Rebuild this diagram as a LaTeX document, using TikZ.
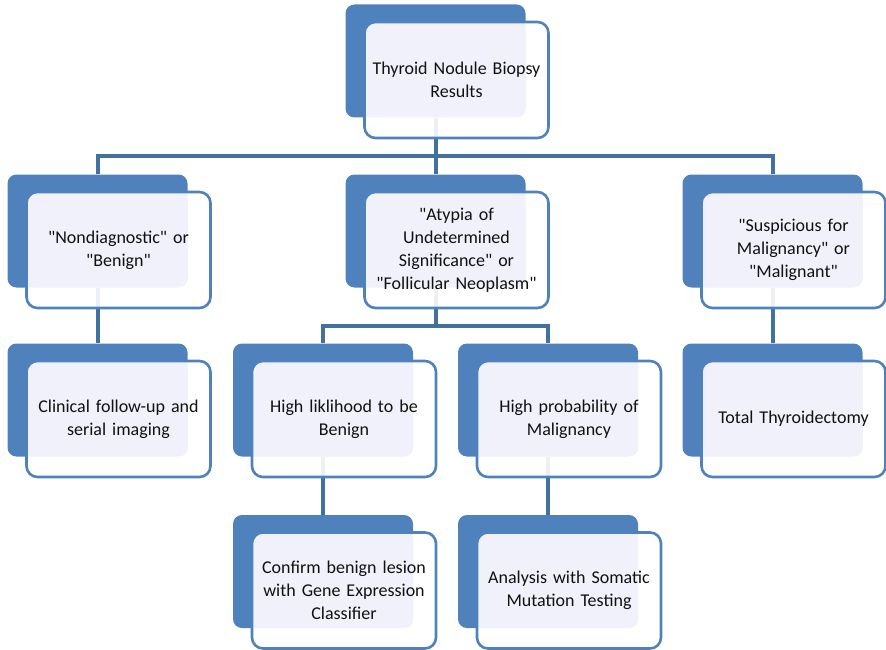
\documentclass[tikz,border=0pt]{standalone}
\usepackage{fontspec}
\setmainfont{Carlito}[Ligatures=TeXOff]
\usetikzlibrary{backgrounds}
\definecolor{boxblue}{HTML}{4F81BD}
\definecolor{linkblue}{HTML}{41719C}
\definecolor{lav}{HTML}{F0F1FA}
\definecolor{txt}{HTML}{111111}
\tikzset{
  back/.style={fill=boxblue, rounded corners=9pt, minimum width=180pt, minimum height=113pt, inner sep=0pt},
  front/.style={draw=boxblue, line width=2.6pt, fill=white, fill opacity=0.9, text opacity=1, text=txt,
    rounded corners=11pt, minimum width=184pt, minimum height=116pt, text width=178pt, inner sep=2pt, align=center,
    font=\fontsize{18}{23}\selectfont,
    path picture={\fill[lav, fill opacity=1, rounded corners=8pt] (path picture bounding box.north west)
      rectangle ([xshift=-23pt,yshift=21pt]path picture bounding box.south east);}},
  link/.style={draw=linkblue, line width=4pt}
}

\begin{document}
\begin{tikzpicture}[x=1pt,y=-1pt]
\useasboundingbox (0,0) rectangle (886,650);
\foreach \name/\x/\y/\txt in {
  top/435.5/61/{Thyroid Nodule Biopsy\\Results},
  nd/97.5/231/{"Nondiagnostic" or\\"Benign"},
  aus/435.5/231/{"Atypia of\\Undetermined\\Significance" or\\"Follicular Neoplasm"},
  susp/772.5/231/{"Suspicious for\\Malignancy" or\\"Malignant"},
  follow/97.5/400/{Clinical follow-up and\\serial imaging},
  benign/323/400/{High liklihood to be\\Benign},
  malig/548/400/{High probability of\\Malignancy},
  thyr/772.5/400/{Total Thyroidectomy},
  gec/323/571.5/{Confirm benign lesion\\with Gene Expression\\Classifier},
  smt/548/571.5/{Analysis with Somatic\\Mutation Testing}}{
  \node[back] (\name) at (\x,\y) {};
  \node[front] (\name-f) at ([shift={(21,19)}]\name.center) {\txt};
}
% connectors behind the boxes
\begin{scope}[on background layer]
\draw[link] (top.south) -- ++(0,38) -| (nd.north);
\draw[link] (top.south) -- ++(0,38) -| (susp.north);
\draw[link] (top.south) -- (aus.north);
\draw[link] (nd.south) -- (follow.north);
\draw[link] (aus.south) -- ++(0,38) -| (benign.north);
\draw[link] (aus.south) -- ++(0,38) -| (malig.north);
\draw[link] (susp.south) -- (thyr.north);
\draw[link] (benign.south) -- (gec.north);
\draw[link] (malig.south) -- (smt.north);
\end{scope}
\end{tikzpicture}
\end{document}
